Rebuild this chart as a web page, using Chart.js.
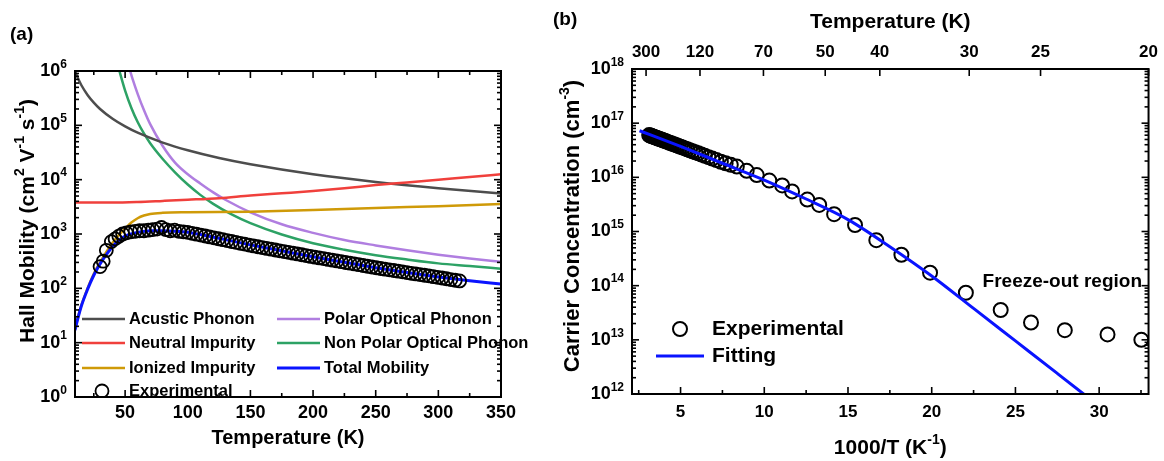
<!DOCTYPE html>
<html>
<head>
<meta charset="utf-8">
<script src="https://cdn.jsdelivr.net/npm/chart.js@4.4.1/dist/chart.umd.min.js"></script>
<style>
    html, body { margin: 0; padding: 0; background: #fff; }
    body { width: 1164px; height: 461px; position: relative; overflow: hidden; }
    #chartA { position: absolute; left: 0; top: 0; }
    #chartB { position: absolute; left: 545px; top: 0; }
</style>
</head>
<body>
<canvas id="chartA" width="545" height="461"></canvas>
<canvas id="chartB" width="619" height="461"></canvas>
<script>
const FONT = '"Liberation Sans", Arial, Helvetica, sans-serif';

// ---------- panel (a): Hall mobility vs temperature ----------
const tempTicksA = [50, 100, 150, 200, 250, 300, 350];
const tempMinorA = [25, 75, 125, 175, 225, 275, 325];
const mobilityTicks = [1, 10, 100, 1e3, 1e4, 1e5, 1e6];
const mobilityTickExp = ['0', '1', '2', '3', '4', '5', '6'];

const acousticT  = [10, 12, 15, 20, 25, 30, 40, 50, 60, 80, 100, 125, 150, 200, 250, 300, 350];
const acousticMu = [1.0e6, 7.66e5, 5.53e5, 3.63e5, 2.62e5, 2.0e5, 1.32e5, 9.55e4, 7.31e4, 4.81e4, 3.47e4, 2.5e4, 1.92e4, 1.26e4, 9.1e3, 6.97e3, 5.56e3];

const neutralT  = [10, 40, 60, 80, 100, 125, 150, 175, 200, 225, 250, 275, 300, 325, 350];
const neutralMu = [3.8e3, 3.8e3, 3.89e3, 4.07e3, 4.27e3, 4.57e3, 5.13e3, 5.62e3, 6.17e3, 6.92e3, 7.94e3, 8.91e3, 1.0e4, 1.12e4, 1.26e4];

const ionizedT  = [10, 15, 20, 25, 30, 35, 40, 45, 50, 55, 60, 65, 70, 80, 100, 150, 200, 250, 300, 350];
const ionizedMu = [18.6, 47.9, 100, 186, 302, 468, 692, 955, 1259, 1622, 1950, 2188, 2344, 2455, 2512, 2570, 2754, 3020, 3236, 3548];

const polarT  = [53, 56, 60, 65, 70, 80, 90, 100, 110, 120, 130, 150, 175, 200, 225, 250, 275, 300, 325, 350];
const polarMu = [1.2e6, 7.08e5, 3.80e5, 1.91e5, 1.05e5, 4.17e4, 2.04e4, 1.26e4, 8.51e3, 5.89e3, 4.27e3, 2.51e3, 1.51e3, 1.05e3, 776, 617, 501, 417, 355, 309];

const nonPolarT  = [44.5, 50, 55, 60, 65, 70, 80, 90, 100, 110, 120, 135, 150, 175, 200, 225, 250, 275, 300, 325, 350];
const nonPolarMu = [1.2e6, 4.37e5, 2.09e5, 1.15e5, 7.08e4, 4.68e4, 2.40e4, 1.35e4, 8.13e3, 5.25e3, 3.63e3, 2.29e3, 1.58e3, 977, 676, 513, 407, 339, 288, 257, 229];

const totalT  = [10, 12, 15, 20, 25, 30, 35, 40, 45, 50, 60, 70, 80, 90, 100, 110, 125, 150, 175, 200, 225, 250, 275, 300, 325, 350];
const totalMu = [17.0, 26.3, 46.8, 95.5, 174, 282, 417, 589, 759, 912, 1072, 1148, 1148, 1122, 1072, 977, 832, 631, 490, 380, 302, 240, 195, 162, 138, 120];

const hallT = [30, 32.5, 35, 39, 42, 45, 48, 51, 54.5, 58, 61.5, 65, 68.5, 72, 75.5, 79, 82.5, 86, 89.5, 93, 96.5,
    100, 103.5, 107, 110.5, 114, 117.5, 121, 124.5, 128, 131.5, 135, 138.5, 142, 145.5, 149, 152.5, 156, 159.5, 163, 166.5,
    170, 173.5, 177, 180.5, 184, 187.5, 191, 194.5, 198, 201.5, 205, 208.5, 212, 215.5, 219, 222.5, 226, 229.5, 233, 236.5,
    240, 243.5, 247, 250.5, 254, 257.5, 261, 264.5, 268, 271.5, 275, 278.5, 282, 285.5, 289, 292.5, 296, 299.5, 303, 306.5,
    310, 313.5, 317];
const hallMu = [251, 316, 501, 724, 813, 912, 1000, 1047, 1096, 1122, 1148, 1148, 1175, 1202, 1230, 1318, 1202, 1148, 1175, 1122, 1096,
    1072, 1030, 991, 955, 918, 883, 849, 817, 787, 757, 728, 700, 673, 649, 624, 603, 582, 562, 543, 526,
    508, 491, 475, 459, 444, 429, 415, 401, 387, 375, 363, 352, 340, 330, 319, 309, 299, 290, 281, 272,
    263, 255, 247, 239, 232, 225, 219, 213, 207, 201, 195, 189, 184, 179, 174, 169, 164, 159, 155, 150,
    145, 141, 137];

// ---------- panel (b): carrier concentration vs 1000/T ----------
const invTTicks = [5, 10, 15, 20, 25, 30];
const invTMinor = [2.5, 7.5, 12.5, 17.5, 22.5, 27.5, 32.5];
const topTempPos = [2.94, 6.16, 9.95, 13.64, 16.90, 22.24, 26.50, 32.95];
const topTempLabels = ['300', '120', '70', '50', '40', '30', '25', '20'];
const carrierTicks = [1e12, 1e13, 1e14, 1e15, 1e16, 1e17, 1e18];
const carrierTickExp = ['12', '13', '14', '15', '16', '17', '18'];

const expInvT = [3.125, 3.175, 3.226, 3.279, 3.333, 3.390, 3.448, 3.509, 3.571, 3.636,
    3.704, 3.774, 3.846, 3.922, 4.000, 4.082, 4.167, 4.255, 4.348, 4.444,
    4.545, 4.651, 4.762, 4.878, 5.000, 5.128, 5.263, 5.405, 5.556, 5.714,
    5.882, 6.061, 6.250, 6.452, 6.667, 6.897, 7.143, 7.407, 7.692, 8.000,
    8.36, 8.95, 9.55, 10.30, 11.07, 11.66, 12.57, 13.28, 14.17, 15.42,
    16.69, 18.19, 19.90, 22.04, 24.12, 25.93, 27.95, 30.50, 32.52];
const expN = [6.03e16, 5.94e16, 5.86e16, 5.78e16, 5.69e16, 5.61e16, 5.52e16, 5.43e16, 5.34e16, 5.26e16,
    5.16e16, 5.07e16, 4.98e16, 4.88e16, 4.78e16, 4.67e16, 4.57e16, 4.46e16, 4.35e16, 4.25e16,
    4.13e16, 4.02e16, 3.90e16, 3.78e16, 3.66e16, 3.54e16, 3.42e16, 3.29e16, 3.16e16, 3.03e16,
    2.90e16, 2.77e16, 2.63e16, 2.49e16, 2.36e16, 2.22e16, 2.08e16, 1.94e16, 1.82e16, 1.70e16,
    1.58e16, 1.32e16, 1.10e16, 8.71e15, 7.08e15, 5.50e15, 3.89e15, 3.09e15, 2.09e15, 1.32e15,
    6.92e14, 3.72e14, 1.74e14, 7.41e13, 3.55e13, 2.09e13, 1.51e13, 1.26e13, 1.00e13];

const fitInvT = [2.55, 5, 7.5, 10, 12.5, 15, 17.5, 20, 22.5, 25, 27.5, 29.07, 29.6];
const fitN = [7.24e16, 3.72e16, 1.82e16, 8.91e15, 3.98e15, 1.66e15, 5.25e14, 1.51e14, 3.80e13, 9.55e12, 2.40e12, 1.0e12, 7.4e11];

// colours
const cAcoustic = '#4d4d4d';
const cNeutral = '#f0403c';
const cIonized = '#cf9a08';
const cPolar = '#b07ee0';
const cNonPolar = '#2da265';
const cTotal = '#0a14ff';

// ---------- helpers ----------
const pts = (xs, ys) => xs.map((x, i) => ({ x: x, y: ys[i] }));

function curve(label, xs, ys, color, width) {
    return {
        label: label,
        data: pts(xs, ys),
        borderColor: color,
        backgroundColor: color,
        borderWidth: width || 2.5,
        pointRadius: 0,
        cubicInterpolationMode: 'monotone',
        fill: false
    };
}

function circles(label, xs, ys, r, bw) {
    return {
        label: label,
        data: pts(xs, ys),
        showLine: false,
        pointRadius: r,
        pointHoverRadius: r,
        pointBorderWidth: bw,
        pointBorderColor: '#000',
        pointBackgroundColor: 'rgba(0,0,0,0)'
    };
}

// text with ^{...} superscripts
function richText(ctx, str, x, y, size, align, rot) {
    const parts = [];
    str.split(/(\^\{[^}]*\})/).forEach(p => {
        if (!p) return;
        if (p.indexOf('^{') === 0) parts.push({ t: p.slice(2, -1), sup: true });
        else parts.push({ t: p, sup: false });
    });
    const supSize = Math.round(size * 0.65);
    let w = 0;
    parts.forEach(p => {
        ctx.font = 'bold ' + (p.sup ? supSize : size) + 'px ' + FONT;
        p.w = ctx.measureText(p.t).width;
        w += p.w;
    });
    ctx.save();
    ctx.translate(x, y);
    if (rot) ctx.rotate(rot);
    let cx = align === 'left' ? 0 : (align === 'right' ? -w : -w / 2);
    ctx.textBaseline = 'middle';
    ctx.textAlign = 'left';
    ctx.fillStyle = '#000';
    parts.forEach(p => {
        ctx.font = 'bold ' + (p.sup ? supSize : size) + 'px ' + FONT;
        ctx.fillText(p.t, cx, p.sup ? -size * 0.36 : 0);
        cx += p.w;
    });
    ctx.restore();
}

function seg(ctx, x1, y1, x2, y2) {
    ctx.beginPath();
    ctx.moveTo(x1, y1);
    ctx.lineTo(x2, y2);
    ctx.stroke();
}

function logMinors(minExp, maxExp) {
    const out = [];
    for (let e = minExp; e < maxExp; e++) {
        for (let k = 2; k <= 9; k++) out.push(k * Math.pow(10, e));
    }
    return out;
}

// frame, inward ticks and the 10^n labels of the y axis
function drawFrame(chart, yMajors, yExp, yMinors) {
    const ctx = chart.ctx;
    const a = chart.chartArea;
    const ys = chart.scales.y;
    ctx.save();
    ctx.strokeStyle = '#000';
    ctx.lineWidth = 1.6;
    yMajors.forEach(v => {
        const p = ys.getPixelForValue(v);
        seg(ctx, a.left, p, a.left + 7, p);
        seg(ctx, a.right, p, a.right - 7, p);
    });
    yMinors.forEach(v => {
        const p = ys.getPixelForValue(v);
        seg(ctx, a.left, p, a.left + 4, p);
        seg(ctx, a.right, p, a.right - 4, p);
    });
    ctx.lineWidth = 2;
    ctx.strokeRect(a.left, a.top, a.right - a.left, a.bottom - a.top);
    ctx.restore();
    yMajors.forEach((v, i) => {
        richText(ctx, '10^{' + yExp[i] + '}', a.left - 8, ys.getPixelForValue(v), 18, 'right');
    });
}

const noGrid = { display: false, drawTicks: false };
const tickFont = size => ({ family: FONT, size: size, weight: 'bold' });

// ---------- panel (a) ----------
const legendA = [
    { label: 'Acustic Phonon', color: cAcoustic, col: 0, row: 0 },
    { label: 'Neutral Impurity', color: cNeutral, col: 0, row: 1 },
    { label: 'Ionized Impurity', color: cIonized, col: 0, row: 2 },
    { label: 'Experimental', color: null, col: 0, row: 3 },
    { label: 'Polar Optical Phonon', color: cPolar, col: 1, row: 0 },
    { label: 'Non Polar Optical Phonon', color: cNonPolar, col: 1, row: 1 },
    { label: 'Total Mobility', color: cTotal, col: 1, row: 2 }
];

const decorA = {
    id: 'decorA',
    afterDraw(chart) {
        const ctx = chart.ctx;
        const a = chart.chartArea;
        const xs = chart.scales.x;

        // legend, cut at the bottom axis like the original
        const colX = [82, 277];
        const rowY = [319, 343, 368, 391];
        ctx.save();
        ctx.beginPath();
        ctx.rect(0, 0, chart.width, a.bottom);
        ctx.clip();
        legendA.forEach(item => {
            const x0 = colX[item.col];
            const y = rowY[item.row];
            if (item.color) {
                ctx.strokeStyle = item.color;
                ctx.lineWidth = item.color === cTotal ? 3 : 2.5;
                seg(ctx, x0, y, x0 + 43, y);
            } else {
                ctx.strokeStyle = '#000';
                ctx.lineWidth = 1.8;
                ctx.beginPath();
                ctx.arc(x0 + 20, y, 6.5, 0, Math.PI * 2);
                ctx.stroke();
            }
            richText(ctx, item.label, x0 + 47, y, 16.5, 'left');
        });
        ctx.restore();

        // x ticks on bottom and top
        ctx.save();
        ctx.strokeStyle = '#000';
        ctx.lineWidth = 1.6;
        tempTicksA.forEach(v => {
            const p = xs.getPixelForValue(v);
            seg(ctx, p, a.bottom, p, a.bottom - 7);
            seg(ctx, p, a.top, p, a.top + 7);
        });
        tempMinorA.forEach(v => {
            const p = xs.getPixelForValue(v);
            seg(ctx, p, a.bottom, p, a.bottom - 4);
            seg(ctx, p, a.top, p, a.top + 4);
        });
        ctx.restore();

        drawFrame(chart, mobilityTicks, mobilityTickExp, logMinors(0, 6));

        richText(ctx, '(a)', 10, 35, 19, 'left');
        richText(ctx, 'Temperature (K)', (a.left + a.right) / 2, 438, 20, 'center');
        richText(ctx, 'Hall Mobility (cm^{2} V^{-1} s^{-1})', 28, 221, 21, 'center', -Math.PI / 2);
    }
};

new Chart(document.getElementById('chartA'), {
    type: 'line',
    data: {
        datasets: [
            circles('Experimental', hallT, hallMu, 6.5, 1.8),
            curve('Total Mobility', totalT, totalMu, cTotal, 3),
            curve('Ionized Impurity', ionizedT, ionizedMu, cIonized),
            curve('Neutral Impurity', neutralT, neutralMu, cNeutral),
            curve('Acustic Phonon', acousticT, acousticMu, cAcoustic),
            curve('Polar Optical Phonon', polarT, polarMu, cPolar),
            curve('Non Polar Optical Phonon', nonPolarT, nonPolarMu, cNonPolar)
        ]
    },
    options: {
        responsive: false,
        animation: false,
        events: [],
        layout: { padding: { left: 0, right: 44, top: 71, bottom: 0 } },
        plugins: { legend: { display: false }, tooltip: { enabled: false } },
        scales: {
            x: {
                type: 'linear',
                min: 10,
                max: 350,
                grid: noGrid,
                border: { display: false },
                afterBuildTicks: s => { s.ticks = tempTicksA.map(v => ({ value: v })); },
                afterFit: s => { s.height = 64; },
                ticks: { padding: 5, color: '#000', font: tickFont(18), maxRotation: 0, autoSkip: false }
            },
            y: {
                type: 'logarithmic',
                min: 1,
                max: 1e6,
                grid: noGrid,
                border: { display: false },
                afterBuildTicks: s => { s.ticks = mobilityTicks.map(v => ({ value: v })); },
                afterFit: s => { s.width = 75; },
                ticks: { display: false }
            }
        }
    },
    plugins: [decorA]
});

// ---------- panel (b) ----------
const decorB = {
    id: 'decorB',
    afterDraw(chart) {
        const ctx = chart.ctx;
        const a = chart.chartArea;
        const xs = chart.scales.x;

        ctx.save();
        ctx.strokeStyle = '#000';
        ctx.lineWidth = 1.6;
        invTTicks.forEach(v => {
            const p = xs.getPixelForValue(v);
            seg(ctx, p, a.bottom, p, a.bottom - 7);
        });
        invTMinor.forEach(v => {
            const p = xs.getPixelForValue(v);
            seg(ctx, p, a.bottom, p, a.bottom - 4);
        });
        topTempPos.forEach(v => {
            const p = xs.getPixelForValue(v);
            seg(ctx, p, a.top, p, a.top + 7);
        });
        ctx.restore();

        drawFrame(chart, carrierTicks, carrierTickExp, logMinors(12, 18));

        // legend
        ctx.save();
        ctx.strokeStyle = '#000';
        ctx.lineWidth = 2;
        ctx.beginPath();
        ctx.arc(135, 329, 7, 0, Math.PI * 2);
        ctx.stroke();
        ctx.strokeStyle = cTotal;
        ctx.lineWidth = 3;
        seg(ctx, 111, 356, 159, 356);
        ctx.restore();
        richText(ctx, 'Experimental', 167, 329, 21, 'left');
        richText(ctx, 'Fitting', 167, 356, 21, 'left');

        richText(ctx, 'Freeze-out region', 597, 282, 19, 'right');
        richText(ctx, '(b)', 8, 20, 19, 'left');
        richText(ctx, 'Temperature (K)', (a.left + a.right) / 2, 22, 21, 'center');
        richText(ctx, '1000/T (K^{-1})', (a.left + a.right) / 2, 448, 21, 'center');
        richText(ctx, 'Carrier Concentration (cm^{-3})', 28, 226, 22, 'center', -Math.PI / 2);
    }
};

new Chart(document.getElementById('chartB'), {
    type: 'line',
    data: {
        datasets: [
            curve('Fitting', fitInvT, fitN, cTotal, 3),
            circles('Experimental', expInvT, expN, 7, 2)
        ]
    },
    options: {
        responsive: false,
        animation: false,
        events: [],
        layout: { padding: { left: 0, right: 14.5, top: 0, bottom: 0 } },
        plugins: { legend: { display: false }, tooltip: { enabled: false } },
        scales: {
            x: {
                type: 'linear',
                position: 'bottom',
                min: 2.1,
                max: 32.95,
                grid: noGrid,
                border: { display: false },
                afterBuildTicks: s => { s.ticks = invTTicks.map(v => ({ value: v })); },
                afterFit: s => { s.height = 67; },
                ticks: { padding: 8, color: '#000', font: tickFont(17), maxRotation: 0, autoSkip: false }
            },
            x2: {
                type: 'linear',
                position: 'top',
                min: 2.1,
                max: 32.95,
                grid: noGrid,
                border: { display: false },
                afterBuildTicks: s => { s.ticks = topTempPos.map(v => ({ value: v })); },
                afterFit: s => { s.height = 69; },
                ticks: {
                    padding: 6, color: '#000', font: tickFont(17), maxRotation: 0, autoSkip: false,
                    callback: (v, i) => topTempLabels[i]
                }
            },
            y: {
                type: 'logarithmic',
                min: 1e12,
                max: 1e18,
                grid: noGrid,
                border: { display: false },
                afterBuildTicks: s => { s.ticks = carrierTicks.map(v => ({ value: v })); },
                afterFit: s => { s.width = 87; },
                ticks: { display: false }
            }
        }
    },
    plugins: [decorB]
});
</script>
</body>
</html>
